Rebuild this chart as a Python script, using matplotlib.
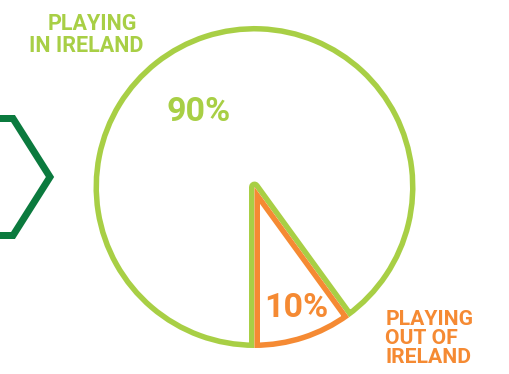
import matplotlib
matplotlib.use("Agg")
import matplotlib.pyplot as plt

# Data
categories = ["PLAYING\nIN IRELAND", "PLAYING\nOUT OF\nIRELAND"]
values = [90, 10]
value_labels = ["90%", "10%"]
colors = ["#a8cf45", "#f58a33"]
hex_color = "#0b7a3e"

W, H = 510, 374
fig = plt.figure(figsize=(W / 100, H / 100), dpi=100)
ax = fig.add_axes([0, 0, 1, 1])

def py(y):
    return H - y

cx, cy, R = 254.5, py(187), 161
lw_pt = 11 * 72 / 100  # full stroke width; only the inner half is visible

wedges, _ = ax.pie(values, startangle=306, center=(cx, cy), radius=R,
                   colors=["white", "white"],
                   wedgeprops=dict(linewidth=lw_pt))
for w, c, js in zip(wedges, colors, ["round", "miter"]):
    w.set_edgecolor(c)
    w.set_joinstyle(js)
    w.set_clip_path(w)
    w.set_clip_on(True)

# decorative hexagon on the left (partially off canvas)
hx = [-100, 13, 50, 13, -100]
hy = [py(118.5), py(118.5), py(177), py(235.5), py(235.5)]
ax.plot(hx, hy, color=hex_color, lw=7 * 72 / 100, solid_joinstyle="miter")

font = "Roboto"
# label of the first slice, one line at a time
for line, (x, y) in zip(categories[0].split("\n"), [(92, 13), (86.5, 35)]):
    ax.text(x, py(y), line, ha="center", va="top", color=colors[0],
            fontsize=15.5, fontweight="bold", family=font)
ax.text(385.5, py(310), categories[1], ha="left", va="top", color=colors[1],
        fontsize=15.2, fontweight="bold", family=font, linespacing=1.0)
ax.text(199, py(121), value_labels[0], ha="center", va="baseline", color=colors[0],
        fontsize=24.5, fontweight="bold", family=font)
ax.text(296.5, py(317), value_labels[1], ha="center", va="baseline", color=colors[1],
        fontsize=24.5, fontweight="bold", family=font)

ax.set_xlim(0, W)
ax.set_ylim(0, H)
ax.set_aspect("auto")
ax.axis("off")
fig.savefig("out.png", dpi=100, facecolor="white")
